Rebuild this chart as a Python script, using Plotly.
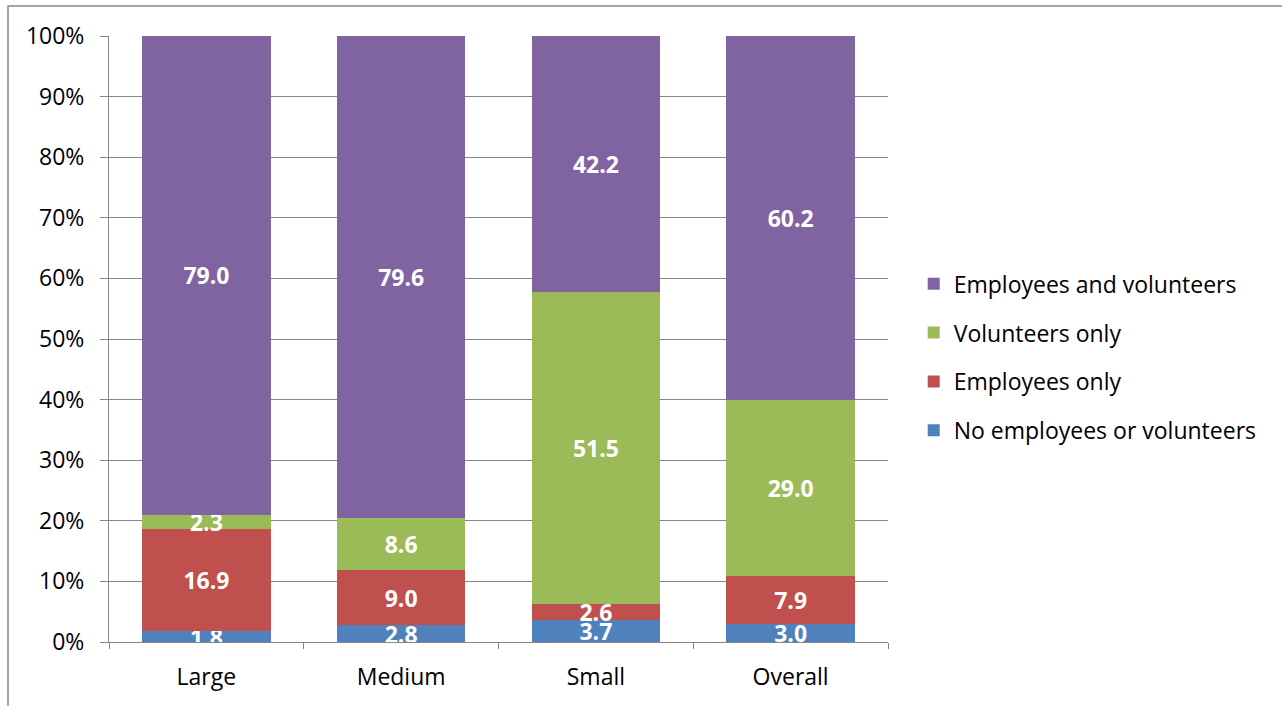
import plotly.graph_objects as go

# Data
categories = ["Large", "Medium", "Small", "Overall"]
series_names = ["No employees or volunteers", "Employees only", "Volunteers only", "Employees and volunteers"]
no_emp_vol = [1.8, 2.8, 3.7, 3.0]
emp_only = [16.9, 9.0, 2.6, 7.9]
vol_only = [2.3, 8.6, 51.5, 29.0]
emp_and_vol = [79.0, 79.6, 42.2, 60.2]
colors = ["#4F81BD", "#C0504D", "#9BBB59", "#8064A2"]
y_ticks = list(range(0, 101, 10))
y_labels = [f"{t}%" for t in y_ticks]

FONT = "Open Sans"

fig = go.Figure()
all_vals = [no_emp_vol, emp_only, vol_only, emp_and_vol]
for i, (name, vals, col) in enumerate(zip(series_names, all_vals, colors)):
    fig.add_trace(go.Bar(
        x=categories, y=vals, name=name, legendgroup=name,
        legendrank=len(series_names) - i,
        marker=dict(color=col, line=dict(width=0)),
        text=[f"{v:.1f}" for v in vals],
        textposition="inside", insidetextanchor="middle",
        constraintext="none",
        textfont=dict(family=FONT, size=23, color="white", weight="bold"),
        hoverinfo="skip",
    ))

fig.update_layout(
    barmode="stack",
    bargap=0.34,
    width=1282, height=706,
    margin=dict(l=109, r=394, t=36, b=64),
    plot_bgcolor="white", paper_bgcolor="white",
    font=dict(family=FONT, size=23, color="black"),
    legend=dict(
        x=1.033, y=0.47, xanchor="left", yanchor="middle",
        traceorder="grouped", tracegroupgap=16,
        font=dict(family=FONT, size=23),
        itemwidth=30,
    ),
    xaxis=dict(
        showline=True, linecolor="#868686", linewidth=1,
        ticks="outside", tickson="boundaries", ticklen=6, tickcolor="#868686",
        showgrid=False, ticklabelstandoff=14,
    ),
    yaxis=dict(
        range=[0, 100], tickvals=y_ticks, ticktext=y_labels,
        showline=True, linecolor="#868686", linewidth=1,
        ticks="outside", ticklen=8, tickcolor="#868686",
        showgrid=True, gridcolor="#868686", gridwidth=1,
        zeroline=False, ticklabelstandoff=11,
    ),
    shapes=[dict(
        type="rect", xref="paper", yref="paper",
        x0=(8 - 109) / 779, x1=2, y0=-0.3, y1=(642 - 6) / 606,
        line=dict(color="#888888", width=1.5), fillcolor="rgba(0,0,0,0)", layer="below",
    )],
)

# drop the default 8px page margin so the figure fills the window
fig.write_html("out.html", config={"displayModeBar": False},
               post_script="document.body.style.margin='0';")
